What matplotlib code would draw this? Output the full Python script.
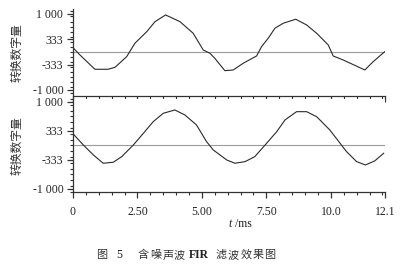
import matplotlib
matplotlib.use("Agg")
import matplotlib.pyplot as plt
from matplotlib.ticker import MultipleLocator

# ---- data ----
t_top = [0.0, 0.27, 0.85, 1.36, 1.63, 2.08, 2.40, 2.86, 3.18, 3.59, 4.15, 4.66, 5.05,
         5.31, 5.50, 5.89, 6.21, 6.60, 7.12, 7.31, 7.57, 7.83, 8.15, 8.64, 9.06, 9.45,
         9.90, 10.09, 10.48, 11.32, 11.64, 12.09]
v_top = [113, -79, -455, -455, -403, -124, 229, 534, 797, 974, 797, 492, 53,
         -34, -166, -492, -474, -297, -105, 139, 361, 624, 755, 861, 711, 492,
         184, -105, -211, -474, -255, 8]

t_bot = [0.0, 0.40, 0.79, 1.17, 1.56, 1.89, 2.34, 2.73, 3.11, 3.50, 3.95, 4.34, 4.79,
         5.18, 5.44, 5.70, 5.96, 6.28, 6.67, 7.05, 7.51, 7.90, 8.22, 8.67, 9.06, 9.45,
         9.96, 10.41, 10.61, 11.00, 11.34, 11.70, 12.05]
v_bot = [270, 11, -218, -409, -386, -257, 11, 280, 547, 740, 816, 701, 471,
         87, -103, -218, -333, -409, -372, -257, 51, 317, 586, 777, 777, 662,
         356, 11, -143, -372, -448, -356, -179]

x_ticks = [0, 2.5, 5.0, 7.5, 10.0, 12.1]
x_ticklabels = ["0", "2.50", "5.00", "7.50", "10.0", "12.1"]
y_ticks = [-1000, -333, 333, 1000]
y_ticklabels = ["-1 000", "-333", "333", "1 000"]
y_label = "转换数字量"
x_label_t = "t"
x_label_unit = " /ms"
caption_parts = ["图", "5", "含", "噪", "声", "波", "FIR", "滤", "波", "效", "果", "图"]

# ---- figure ----
W, H = 406, 269
fig = plt.figure(figsize=(W / 100, H / 100), dpi=100)
fig.patch.set_facecolor("white")

serif = ["Liberation Serif", "DejaVu Serif"]
cjk = ["Noto Sans CJK SC", "DejaVu Sans"]
line_col = "#2a2a2a"
axis_col = "#333333"

ax_top = fig.add_axes([73 / W, 1 - 96 / H, 312 / W, (96 - 9.4) / H])
ax_bot = fig.add_axes([73 / W, 1 - 192 / H, 312 / W, (192 - 98.5) / H])

ax_top.set_ylim(-1158, 1120)
ax_bot.set_ylim(-1070, 1080)

for ax, t, v in ((ax_top, t_top, v_top), (ax_bot, t_bot, v_bot)):
    ax.set_xlim(0, 12.1)
    ax.axhline(0, color="#9a9a9a", lw=0.8, zorder=1)
    ax.plot(t, v, color=line_col, lw=0.8, zorder=2)
    for s in ("top", "right"):
        ax.spines[s].set_visible(False)
    for s in ("left", "bottom"):
        ax.spines[s].set_color(axis_col)
        ax.spines[s].set_linewidth(0.9)
    ax.set_yticks(y_ticks)
    ax.set_yticklabels(y_ticklabels, fontfamily=serif, fontsize=8.5, color="#222222")
    ax.yaxis.set_minor_locator(MultipleLocator(1000 / 7.5))
    ax.set_xticks(x_ticks)
    ax.xaxis.set_minor_locator(MultipleLocator(0.5))
    ax.tick_params(axis="both", which="major", direction="out", length=4, width=0.9,
                   color=axis_col, pad=3)
    ax.tick_params(axis="both", which="minor", direction="out", length=2.5, width=0.8,
                   color=axis_col)
    ax.set_ylabel(y_label, fontfamily=cjk, fontsize=8.5, color="#333333")
    ax.yaxis.set_label_coords(-49 / 312, 0.5)

ax_top.set_xticklabels([])
ax_bot.set_xticklabels(x_ticklabels, fontfamily=serif, fontsize=8.5, color="#222222")
ax_bot.tick_params(axis="x", pad=6)

fig.text(232 / W, 1 - 224 / H, x_label_t, fontfamily=serif, fontstyle="italic",
         fontsize=8.5, ha="right", va="center", color="#222222")
fig.text(232 / W, 1 - 224 / H, x_label_unit, fontfamily=serif,
         fontsize=8.5, ha="left", va="center", color="#222222")

# caption, placed piece by piece to mimic letter spacing
cap_x = [101.7, 119, 143, 155.5, 168, 179.5, 199, 221, 233, 246, 258, 270]
for part, cx in zip(caption_parts, cap_x):
    if part.isascii():
        fig.text(cx / W, 1 - 255 / H, part, fontfamily=serif, fontsize=8.5,
                 fontweight="bold" if part == "FIR" else "normal",
                 ha="center", va="center", color="#222222")
    else:
        fig.text(cx / W, 1 - 255 / H, part, fontfamily=cjk, fontsize=8,
                 ha="center", va="center", color="#333333")

fig.savefig("out.png", dpi=100, facecolor="white")
